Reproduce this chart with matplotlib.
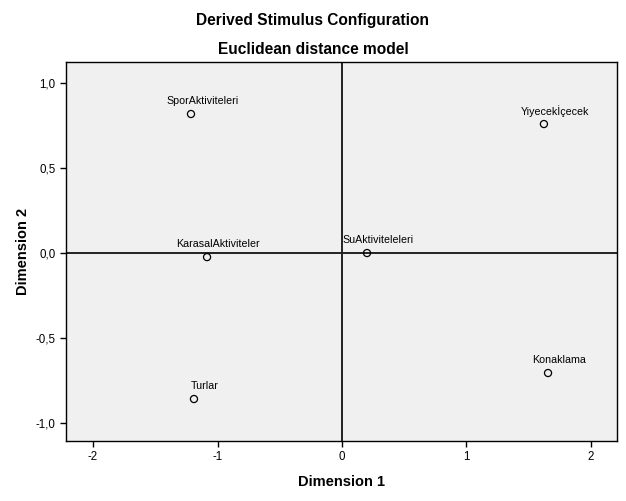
import matplotlib
matplotlib.use("Agg")
import matplotlib.pyplot as plt
from matplotlib.ticker import FuncFormatter, FixedLocator

plt.rcParams['font.family'] = ['Liberation Sans', 'DejaVu Sans']

labels = ["SporAktiviteleri", "Yiyecekİçecek", "KarasalAktiviteler",
          "SuAktivitelelerі".replace("і", "i"), "Turlar", "Konaklama"]
dim1 = [-1.213, 1.622, -1.084, 0.201, -1.189, 1.655]
dim2 = [0.818, 0.759, -0.024, 0.000, -0.859, -0.706]
xticks = [-2, -1, 0, 1, 2]
yticks = [-1.0, -0.5, 0.0, 0.5, 1.0]

fig = plt.figure(figsize=(6.26, 5.01), dpi=100)
ax = fig.add_axes([66/626, 1-441/501, (617-66)/626, (441-62)/501])
ax.set_facecolor('#f0f0f0')
ax.set_xlim(-2.217, 2.209)
ax.set_ylim(-1.106, 1.124)

ax.axhline(0, color='#222222', lw=1.4, zorder=1)
ax.axvline(0, color='#222222', lw=1.4, zorder=1)

ax.scatter(dim1, dim2, s=26, facecolors='none', edgecolors='black', linewidths=0.9, zorder=3)
for x, y, t in zip(dim1, dim2, labels):
    ax.annotate(t, (x, y), xytext=(8, 9.5), textcoords='offset points',
                ha='center', va='center', fontsize=7.7, color='black', zorder=4)

ax.xaxis.set_major_locator(FixedLocator(xticks))
ax.yaxis.set_major_locator(FixedLocator(yticks))
ax.xaxis.set_major_formatter(FuncFormatter(lambda v, p: f"{v:.0f}".replace('-0', '0') if v == 0 else f"{v:.0f}"))
ax.yaxis.set_major_formatter(FuncFormatter(lambda v, p: f"{v:.1f}".replace('.', ',').replace('-0,0', '0,0')))
ax.tick_params(direction='out', length=4, width=1, labelsize=8.3, colors='black')

for s in ax.spines.values():
    s.set_linewidth(1.0)
    s.set_color('black')

ax.set_xlabel("Dimension 1", fontsize=10.5, fontweight='bold', labelpad=8)
ax.set_ylabel("Dimension 2", fontsize=10.5, fontweight='bold', labelpad=4)

fig.text(0.5, 1-20/501, "Derived Stimulus Configuration", ha='center', va='center',
         fontsize=11.2, fontweight='bold')
fig.text(0.5, 1-49/501, "Euclidean distance model", ha='center', va='center',
         fontsize=11.2, fontweight='bold')

fig.savefig("out.png", dpi=100)
